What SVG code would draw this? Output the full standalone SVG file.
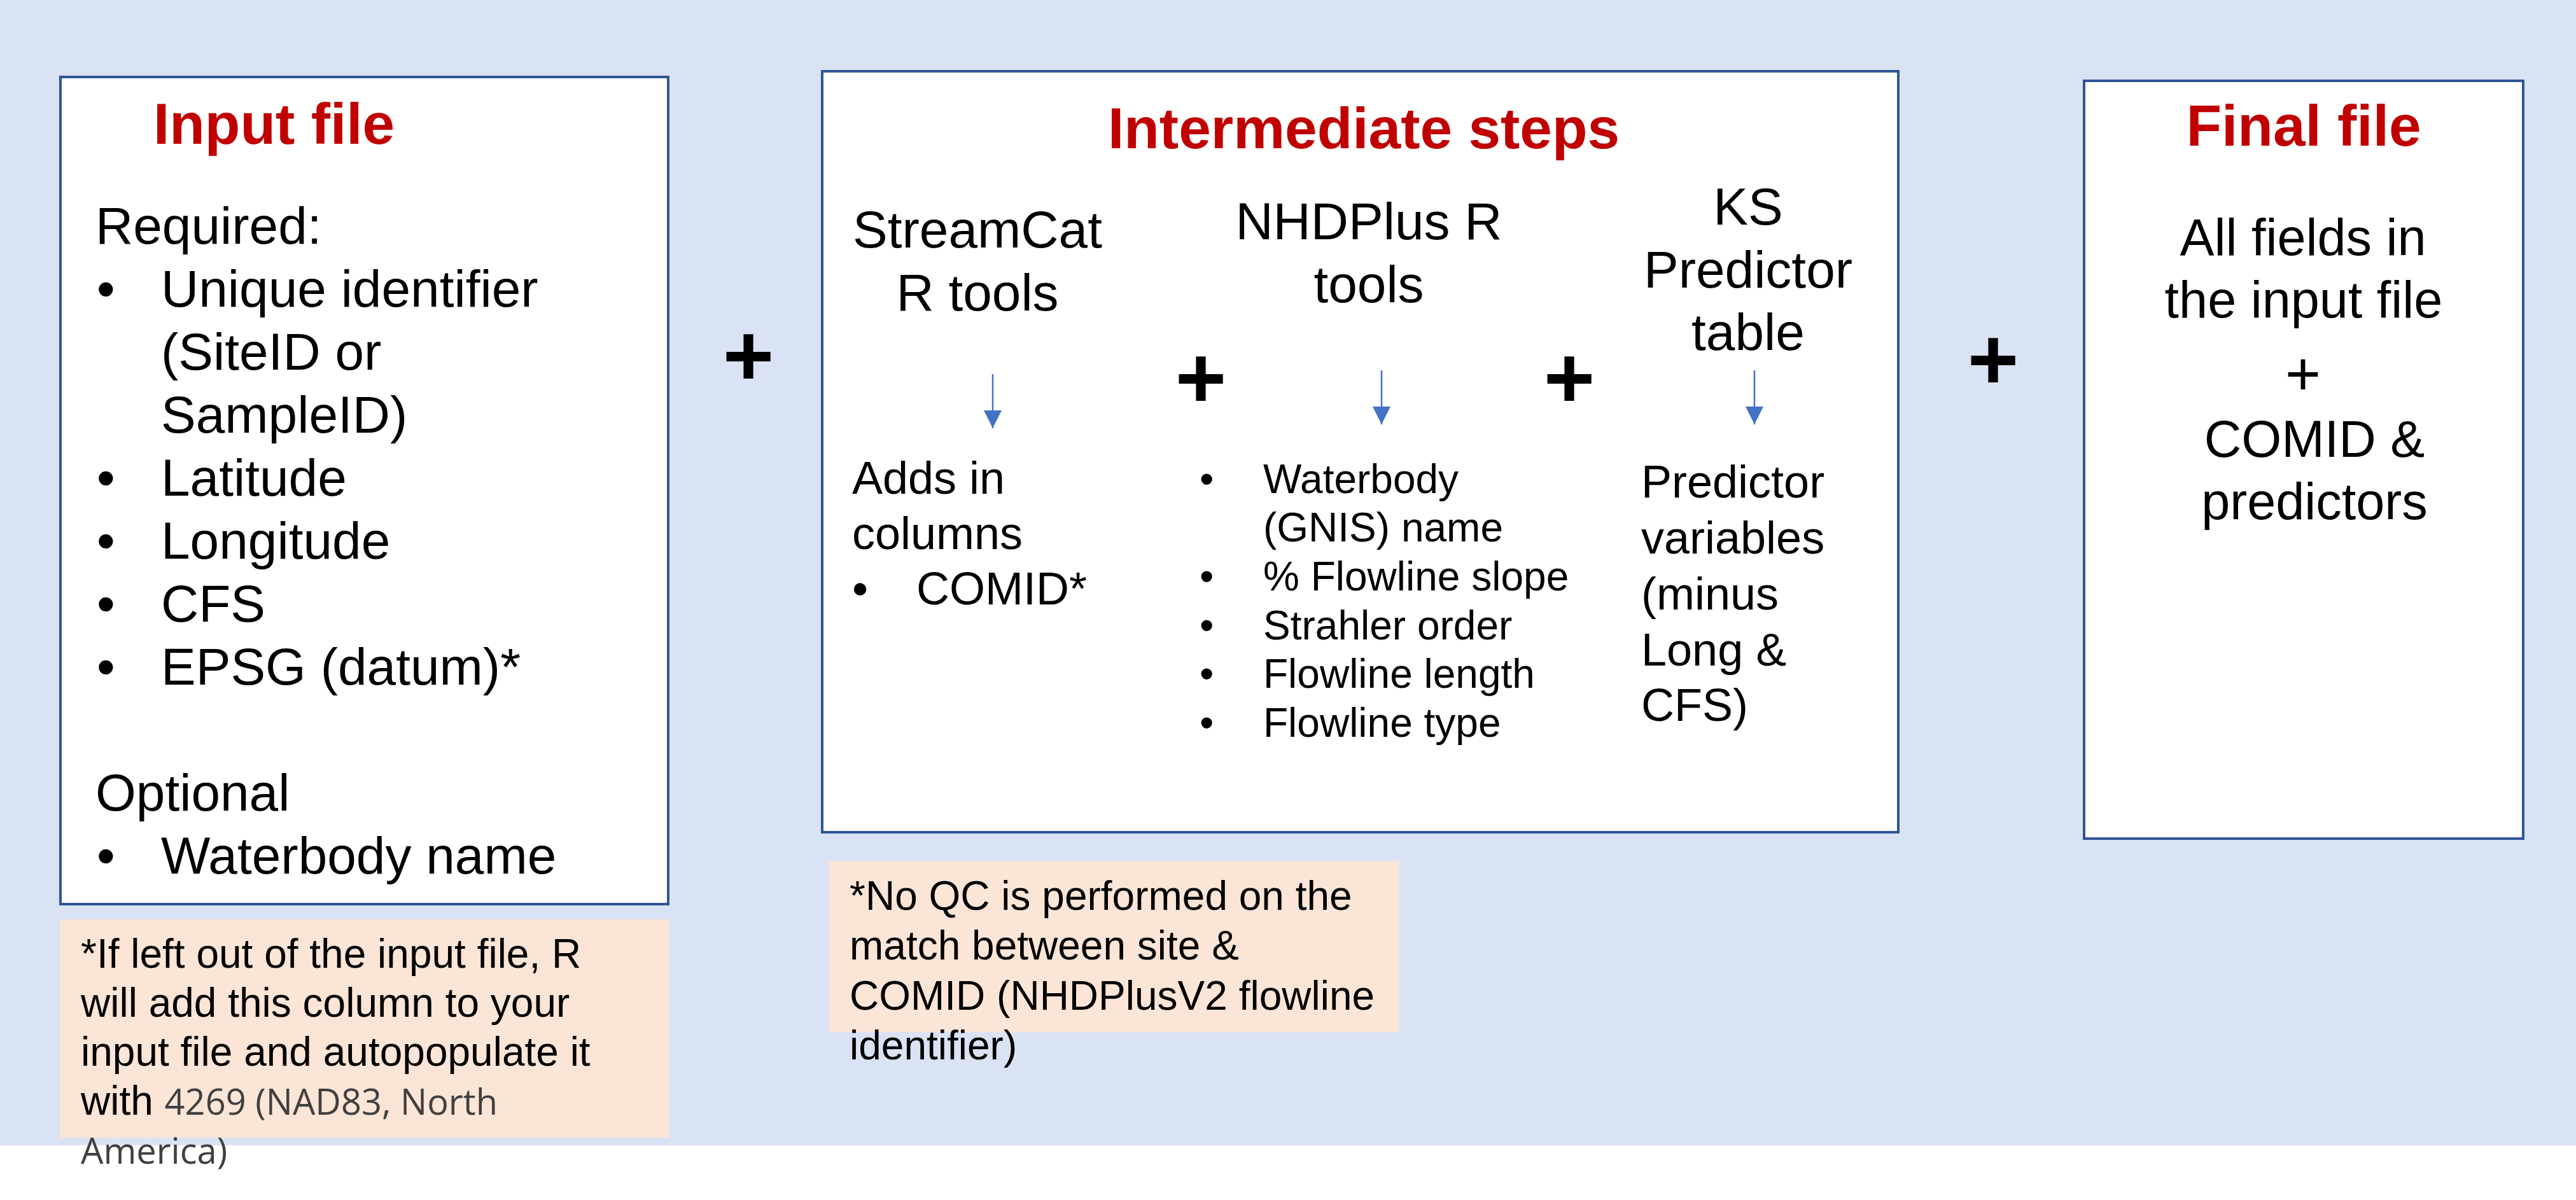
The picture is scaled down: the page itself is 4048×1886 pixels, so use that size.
<svg xmlns="http://www.w3.org/2000/svg" width="4048" height="1886" viewBox="0 0 4048 1886">
<style>
.t{font-family:"Liberation Sans",Arial,sans-serif;fill:#000}
.h{font-family:"Liberation Sans",Arial,sans-serif;font-weight:bold;fill:#C00000;font-size:91px}
.f82{font-size:82px}
.f81{font-size:81px}
.f72{font-size:72px}
.f64{font-size:64px}
.mid{text-anchor:middle}
.box{fill:#fff;stroke:#2F5597;stroke-width:4}
.note{fill:#FBE5D6}
.plus{font-family:"Liberation Sans",Arial,sans-serif;font-weight:bold;fill:#000;font-size:138px;text-anchor:middle}
.g{font-family:"Open Sans","Noto Sans",sans-serif;fill:#404040;font-size:56px}
.arr{stroke:#4472C4;stroke-width:2.5;fill:none}
</style>
<defs>
<marker id="ah" markerUnits="userSpaceOnUse" markerWidth="28" markerHeight="28" viewBox="0 0 10 10" refX="10" refY="5" orient="auto">
<path d="M0,0 L10,5 L0,10 z" fill="#4472C4"/>
</marker>
</defs>
<rect x="0" y="0" width="4048" height="1886" fill="#fff"/>
<rect x="0" y="0" width="4048" height="1800" fill="#DAE3F3"/>

<g id="input-file">
<rect class="box" x="95" y="121" width="955" height="1300"/>
<text class="h" x="241" y="226">Input file</text>
<g class="t f82">
<text x="150" y="383">Required:</text>
<text x="152" y="482">•</text><text x="253" y="482">Unique identifier</text>
<text x="253" y="581">(SiteID or</text>
<text x="253" y="680">SampleID)</text>
<text x="152" y="779">•</text><text x="253" y="779">Latitude</text>
<text x="152" y="878">•</text><text x="253" y="878">Longitude</text>
<text x="152" y="977">•</text><text x="253" y="977">CFS</text>
<text x="152" y="1076">•</text><text x="253" y="1076">EPSG (datum)*</text>
<text x="150" y="1274">Optional</text>
<text x="152" y="1373">•</text><text x="253" y="1373">Waterbody name</text>
</g>
</g>

<g id="note-epsg">
<rect class="note" x="94" y="1445" width="957" height="343"/>
<g class="t f64">
<text x="127" y="1521">*If left out of the input file, R</text>
<text x="127" y="1598">will add this column to your</text>
<text x="127" y="1675">input file and autopopulate it</text>
<text x="127" y="1752">with <tspan class="g">4269 (NAD83, North</tspan></text>
</g>
<text class="g" x="127" y="1829">America)</text>
</g>

<g id="intermediate-steps">
<rect class="box" x="1292" y="112" width="1691" height="1196"/>
<text class="h" x="1741" y="233">Intermediate steps</text>
<g id="streamcat" class="t">
<text class="f82 mid" x="1536" y="389">StreamCat</text>
<text class="f82 mid" x="1536" y="488">R tools</text>
<text class="f72" x="1339" y="776">Adds in</text>
<text class="f72" x="1339" y="863">columns</text>
<text class="f72" x="1339" y="950">•</text><text class="f72" x="1440" y="950">COMID*</text>
</g>
<g id="nhdplus" class="t">
<text class="f82 mid" x="2151" y="376">NHDPlus R</text>
<text class="f82 mid" x="2151" y="475">tools</text>
<g class="f64">
<text x="1885" y="775">•</text><text x="1985" y="775">Waterbody</text>
<text x="1985" y="851">(GNIS) name</text>
<text x="1885" y="928">•</text><text x="1985" y="928">% Flowline slope</text>
<text x="1885" y="1005">•</text><text x="1985" y="1005">Strahler order</text>
<text x="1885" y="1081">•</text><text x="1985" y="1081">Flowline length</text>
<text x="1885" y="1158">•</text><text x="1985" y="1158">Flowline type</text>
</g>
</g>
<g id="ks-predictor" class="t">
<text class="f82 mid" x="2747" y="353">KS</text>
<text class="f82 mid" x="2747" y="452">Predictor</text>
<text class="f82 mid" x="2747" y="550">table</text>
<g class="f72">
<text x="2579" y="782">Predictor</text>
<text x="2579" y="870">variables</text>
<text x="2579" y="958">(minus</text>
<text x="2579" y="1046">Long &amp;</text>
<text x="2579" y="1133">CFS)</text>
</g>
</g>
</g>

<g id="note-qc">
<rect class="note" x="1303" y="1353" width="895" height="269"/>
<g class="t f64">
<text x="1335" y="1430">*No QC is performed on the</text>
<text x="1335" y="1508">match between site &amp;</text>
<text x="1335" y="1587">COMID (NHDPlusV2 flowline</text>
<text x="1335" y="1665">identifier)</text>
</g>
</g>

<g id="final-file">
<rect class="box" x="3275" y="127" width="690" height="1191"/>
<text class="h mid" x="3620" y="229">Final file</text>
<g class="t f81 mid">
<text x="3619" y="401">All fields in</text>
<text x="3620" y="499">the input file</text>
<text x="3619" y="621" style="font-size:96px">+</text>
<text x="3637" y="718">COMID &amp;</text>
<text x="3637" y="816">predictors</text>
</g>
</g>

<g id="operators">
<text class="plus" x="1176" y="606">+</text>
<text class="plus" x="1887" y="641">+</text>
<text class="plus" x="2466" y="641">+</text>
<text class="plus" x="3132" y="612">+</text>
</g>

<g id="connectors">
<line class="arr" x1="1560" y1="588" x2="1560" y2="673" marker-end="url(#ah)"/>
<line class="arr" x1="2171" y1="582" x2="2171" y2="667" marker-end="url(#ah)"/>
<line class="arr" x1="2757" y1="582" x2="2757" y2="667" marker-end="url(#ah)"/>
</g>
</svg>
